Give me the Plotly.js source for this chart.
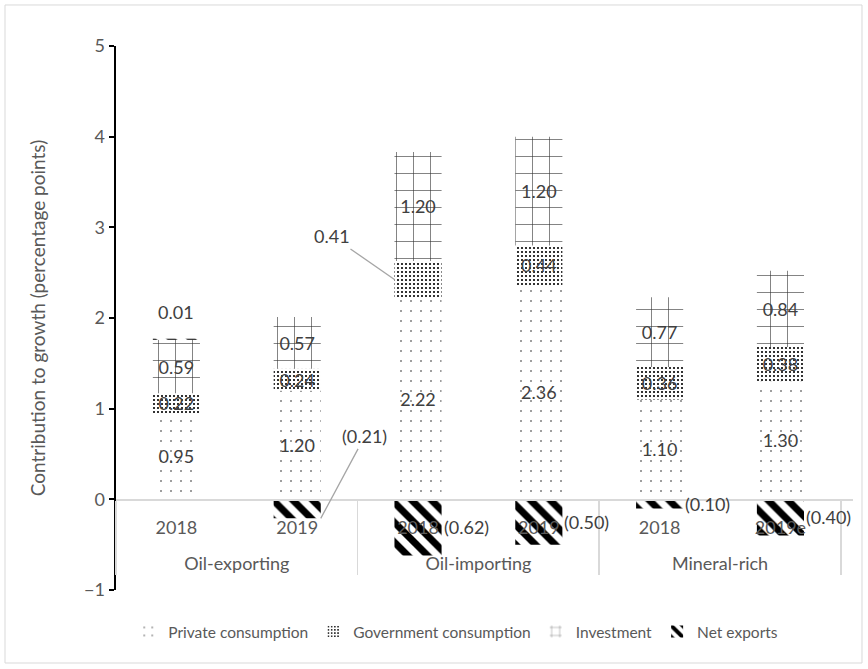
<!DOCTYPE html>
<html>
<head>
<meta charset="utf-8">
<script src="https://cdn.plot.ly/plotly-3.0.1.min.js"></script>
<style>
  html, body { margin: 0; padding: 0; background: #ffffff; }
  #chart { width: 868px; height: 669px; }
</style>
</head>
<body>
<div id="chart"></div>
<script>
// Contributions to GDP growth by demand component, by country group
const groups = ['Oil-exporting', 'Oil-exporting', 'Oil-importing', 'Oil-importing', 'Mineral-rich', 'Mineral-rich'];
const years = ['2018', '2019', '2018', '2019', '2018', '2019e'];

const privateConsumption = [0.95, 1.20, 2.22, 2.36, 1.10, 1.30];
const governmentConsumption = [0.22, 0.24, 0.41, 0.44, 0.36, 0.38];
const investment = [0.59, 0.57, 1.20, 1.20, 0.77, 0.84];
const netExports = [0.01, -0.21, -0.62, -0.50, -0.10, -0.40];

const FONT = 'Lato, "Open Sans", sans-serif';
const GREY = '#595959';
const LABEL = '#404040';
const BARGAP = 0.61;
const HALF = (1 - BARGAP) / 2;

// Accounting-style number: negatives in parentheses
const fmt = v => v < 0 ? '(' + Math.abs(v).toFixed(2) + ')' : v.toFixed(2);

// Group names get an empty first line so they sit lower under the year labels
const x = [groups.map(g => '<br>' + g), years];

function barTrace(name, values, pattern, labels) {
  return {
    type: 'bar',
    name: name,
    x: x,
    y: values,
    marker: {
      color: '#ffffff',
      line: { width: 0 },
      pattern: Object.assign({ fgcolor: '#000000', bgcolor: '#ffffff', fgopacity: 1, fillmode: 'replace' }, pattern)
    },
    text: labels,
    texttemplate: labels ? '%{text}' : '',
    textposition: labels ? 'inside' : 'none',
    insidetextanchor: 'middle',
    textangle: 0,
    constraintext: 'none',
    insidetextfont: { family: FONT, size: 18, color: LABEL },
    hoverinfo: 'name+y'
  };
}

// Government consumption label for the oil-importing 2018 bar sits outside with a leader line
const govLabels = governmentConsumption.map((v, i) => i === 2 ? '' : fmt(v));

const traces = [
  barTrace('Private consumption', privateConsumption,
    { shape: '.', size: 10, solidity: 0.02, fgcolor: '#222222' }, privateConsumption.map(fmt)),
  barTrace('Government consumption', governmentConsumption,
    { shape: '.', size: 4, solidity: 0.22 }, govLabels),
  barTrace('Investment', investment,
    { shape: '+', size: 17, solidity: 0.07, fgcolor: '#333333' }, investment.map(fmt)),
  barTrace('Net exports', netExports,
    { shape: '\\', size: 14, solidity: 0.5 }, null)
];

const annotations = [];
const labelFont = { family: FONT, size: 18, color: LABEL };

netExports.forEach((v, i) => {
  if (v >= 0) {
    const top = privateConsumption[i] + governmentConsumption[i] + investment[i] + v;
    annotations.push({
      x: i, y: top, xref: 'x', yref: 'y', text: fmt(v), showarrow: false,
      yanchor: 'bottom', yshift: 14, font: labelFont
    });
  } else if (i === 1) {
    annotations.push({
      x: i + HALF, y: v, xref: 'x', yref: 'y', text: fmt(v), showarrow: true,
      arrowhead: 0, arrowwidth: 1.3, arrowcolor: '#a6a6a6', ax: 44, ay: -82, font: labelFont
    });
  } else {
    annotations.push({
      x: i + HALF, y: v / 2, xref: 'x', yref: 'y', text: fmt(v), showarrow: false,
      xanchor: 'left', xshift: 0, font: labelFont
    });
  }
});

annotations.push({
  x: 2 - HALF, y: privateConsumption[2] + governmentConsumption[2] / 2, xref: 'x', yref: 'y',
  text: fmt(governmentConsumption[2]), showarrow: true, arrowhead: 0, arrowwidth: 1.3,
  arrowcolor: '#a6a6a6', ax: -62, ay: -43, font: labelFont
});

const layout = {
  width: 868,
  height: 669,
  margin: { l: 116, r: 15, t: 46, b: 79 },
  paper_bgcolor: '#ffffff',
  plot_bgcolor: '#ffffff',
  font: { family: FONT, size: 18, color: GREY },
  barmode: 'relative',
  bargap: BARGAP,
  showlegend: true,
  legend: {
    orientation: 'h', x: 0.461, xanchor: 'center', y: -0.077, yanchor: 'middle',
    font: { family: FONT, size: 15.5, color: GREY }, itemwidth: 30, tracegroupgap: 0
  },
  xaxis: {
    type: 'multicategory',
    anchor: 'free',
    position: 1 / 6,
    showline: true,
    linecolor: '#d9d9d9',
    linewidth: 1.5,
    showgrid: false,
    ticks: '',
    ticklabelstandoff: 12,
    showdividers: true,
    dividercolor: '#d9d9d9',
    dividerwidth: 1.5,
    tickfont: { family: FONT, size: 18, color: GREY }
  },
  yaxis: {
    range: [-1, 5],
    dtick: 1,
    showgrid: false,
    zeroline: false,
    showline: true,
    linecolor: '#000000',
    linewidth: 2.5,
    ticks: 'outside',
    ticklen: 5,
    tickwidth: 2,
    tickcolor: '#000000',
    tickfont: { family: FONT, size: 18, color: GREY },
    title: {
      text: 'Contribution to growth (percentage points)',
      font: { family: FONT, size: 19, color: GREY },
      standoff: 34
    }
  },
  annotations: annotations,
  shapes: [{
    type: 'rect', xref: 'paper', yref: 'paper',
    x0: -0.1506, x1: 1.0122, y0: -0.1342, y1: 1.0754,
    line: { color: '#d9d9d9', width: 1 }, fillcolor: 'rgba(0,0,0,0)', layer: 'below'
  }]
};

Plotly.newPlot('chart', traces, layout, { displayModeBar: false, staticPlot: true });
</script>
</body>
</html>
